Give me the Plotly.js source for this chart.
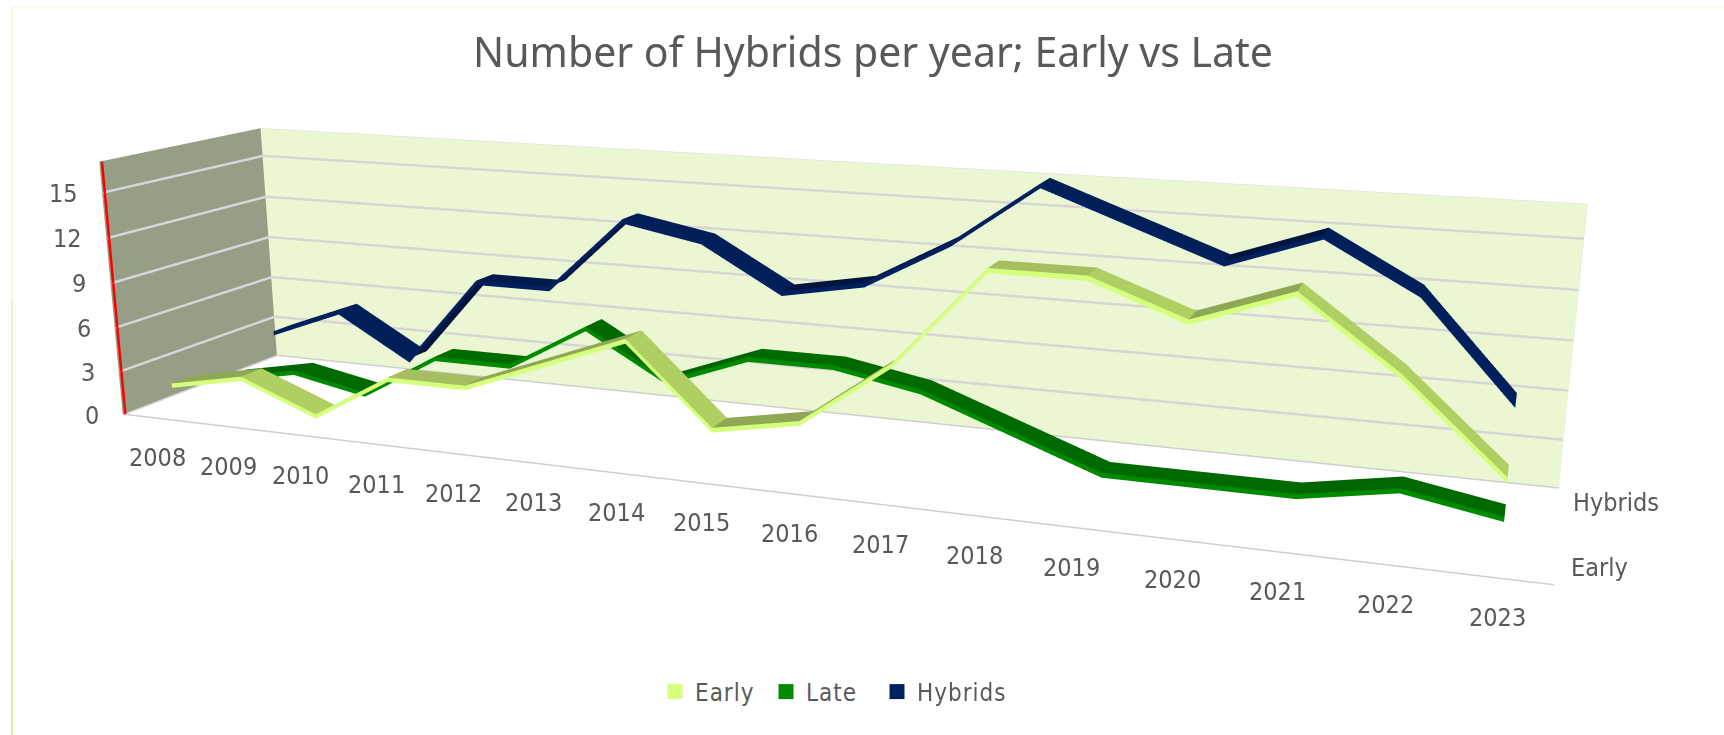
<!DOCTYPE html>
<html>
<head>
<meta charset="utf-8">
<script src="https://cdn.plot.ly/plotly-3.0.1.min.js"></script>
<style>
html,body{margin:0;padding:0;width:1724px;height:735px;overflow:hidden;background:#fff}
#chart{position:absolute;left:-82px;top:-447px;width:1806px;height:1625px}
.legendtext{letter-spacing:1px}
.legend .scrollbox{clip-path:none !important}
</style>
</head>
<body>
<div id="chart"></div>
<script>
const years=[2008,2009,2010,2011,2012,2013,2014,2015,2016,2017,2018,2019,2020,2021,2022,2023];
const early=[2,3,1,4,4,6,8,3,4,8,14,14,12,14,10,5];
const late=[1,2,1,4,4,7,4,6,6,5,3,1,1,1,2,1];
const hybrids=[3,5,2,8,8,13,12,9,10,13,17,15,13,15,12,6];
const seriesNames=['Early','Late','Hybrids'];
const depthLabels=['Early','','Hybrids'];
const zTicks=[0,3,6,9,12,15];
const FONT='"DejaVu Sans Condensed","DejaVu Sans",sans-serif';
const TXT='#595959';
const W=1806,H=1625,OX=82,OY=447;
const X0=2007.5,X1=2023.5,Y1=3,Z1=17;

function ribbon(vals,row,front,up,flat,down){
  const y0=row+0.3,y1=row+0.7,t=0.3;
  const x=[],y=[],z=[],i=[],j=[],k=[],fc=[];
  vals.forEach((v,n)=>{
    x.push(years[n],years[n],years[n]);
    y.push(y0,y1,y0);
    z.push(v,v,v-t);
  });
  function quad(a,b,c,d,col){i.push(a,a);j.push(b,c);k.push(c,d);fc.push(col,col);}
  for(let n=0;n<vals.length-1;n++){
    const a=3*n,b=3*(n+1);
    const col=vals[n+1]>vals[n]?up:(vals[n+1]===vals[n]?flat:down);
    quad(a,b,b+1,a+1,col);
    quad(a+2,b+2,b,a,front);
  }
  const e=3*(vals.length-1);
  i.push(e);j.push(e+1);k.push(e+2);fc.push(front);
  return {type:'mesh3d',x,y,z,i,j,k,facecolor:fc,flatshading:true,showlegend:false,hoverinfo:'skip',
    lighting:{ambient:1,diffuse:0,specular:0,roughness:1,fresnel:0},lightposition:{x:0,y:0,z:1000}};
}
// legend keys: same series names, no drawn points of their own
function keyTrace(name,color){
  return {type:'scatter3d',mode:'markers',name,x:[null],y:[null],z:[null],
    marker:{symbol:'square',size:15,color,opacity:1},hoverinfo:'skip'};
}
function frameLine(x,y,z,color,width){
  return {type:'scatter3d',mode:'lines',x,y,z,line:{color,width},showlegend:false,hoverinfo:'skip'};
}
const data=[
  ribbon(early,0,'#D6FF7E','#8FA855','#A5BF60','#AFCF62'),
  ribbon(late,1,'#008A00','#006400','#006A00','#006A00'),
  ribbon(hybrids,2,'#00205F','#00143E','#001A4C','#001E57')
];
const gx=X0+0.02,gy=Y1-0.01,gz=0.03;
zTicks.filter(v=>v>0).forEach(v=>data.push(frameLine([gx,gx,X1],[0,gy,gy],[v,v,v],'#D6D6D6',5)));
data.push(frameLine([X0+0.03,X0+0.03],[0.01,0.01],[0,Z1],'#FF0000',5));
data.push(frameLine([X0,X1],[0.01,0.01],[gz,gz],'#CFCFCF',3));
data.push(frameLine([X0,X1],[gy,gy],[gz,gz],'#CFCFCF',3));
data.push(frameLine([gx,gx],[0,Y1],[gz,gz],'#D9D9D9',3));
data.push(frameLine([gx,X1,X1],[gy,gy,gy],[Z1,Z1,0],'#DADADA',1));
data.push(keyTrace('Early','#D6FF7E'),keyTrace('Late','#008A00'),keyTrace('Hybrids','#00205F'));

const labelFont={family:FONT,size:25,color:TXT};
const anns=[];
years.forEach(v=>anns.push({x:v,y:0,z:0,text:String(v),showarrow:false,font:labelFont,xshift:0,yshift:-39}));
depthLabels.forEach((t,n)=>{if(t)anns.push({x:X1,y:n+0.5,z:0,text:t,showarrow:false,font:labelFont,xanchor:'left',xshift:13,yshift:0});});
zTicks.forEach(v=>anns.push({x:X0,y:0,z:v,text:String(v),showarrow:false,font:labelFont,xanchor:'right',xshift:-22,yshift:-1}));

const noAxis={showticklabels:false,ticks:'',showspikes:false,zeroline:false,showgrid:false,showline:false,title:{text:''}};
const px=v=>(v+OX)/W, py=v=>1-(v+OY)/H;
const edge=(x0,y0,x1,y1,color,w)=>({type:'line',xref:'paper',yref:'paper',x0:px(x0),y0:py(y0),x1:px(x1),y1:py(y1),line:{color,width:w}});
const layout={
  width:W,height:H,margin:{l:0,r:0,t:0,b:0,pad:0},paper_bgcolor:'#fff',hovermode:false,
  title:{text:'Number of Hybrids per year; Early vs Late',font:{family:'"Noto Sans",sans-serif',size:41,color:TXT},
    x:px(873),xanchor:'center',y:py(53),yanchor:'middle'},
  legend:{orientation:'h',x:px(655),xanchor:'left',y:py(692),yanchor:'middle',itemsizing:'trace',entrywidth:66,entrywidthmode:'pixels',
    font:{family:FONT,size:24,color:TXT}},
  shapes:[edge(12,7,1724,7,'#F8FCEA',2),edge(12,7,12,300,'#F4FBDD',2),edge(12,300,12,560,'#E6F6BE',2),edge(12,560,12,735,'#D9F2A5',2)],
  scene:{domain:{x:[0,1],y:[0,1]},dragmode:false,
    aspectmode:'manual',aspectratio:{x:1,y:0.1901,z:0.1890},
    camera:{eye:{x:0.4755,y:-1.2244,z:0.3086},center:{x:0.0183,y:-0.0015,z:-0.0319},up:{x:-0.0891,y:0.2366,z:0.9676},projection:{type:'perspective'}},
    xaxis:Object.assign({},noAxis,{range:[X0,X1],showbackground:true,backgroundcolor:'#979E86'}),
    yaxis:Object.assign({},noAxis,{range:[0,Y1],showbackground:true,backgroundcolor:'#EBF6D2'}),
    zaxis:Object.assign({},noAxis,{range:[0,Z1],tickvals:zTicks,showbackground:true,backgroundcolor:'#FFFFFF'}),
    annotations:anns
  }
};
Plotly.newPlot('chart',data,layout,{displayModeBar:false,responsive:false});
</script>
</body>
</html>
